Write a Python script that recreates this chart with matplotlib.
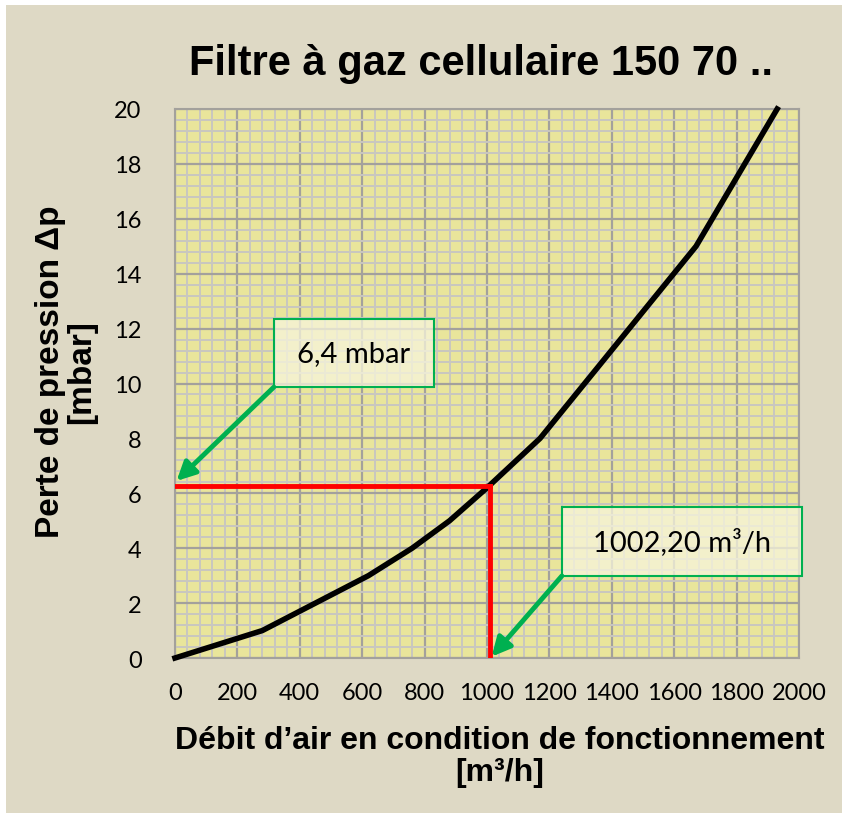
import matplotlib.pyplot as plt
from matplotlib.patches import Rectangle
from matplotlib.ticker import MultipleLocator

# curve data
debit = [0, 280, 620, 760, 880, 1000, 1170, 1420, 1670, 1930]
perte = [0, 1, 3, 4, 5, 6.2, 8, 11.5, 15, 20]

# operating point (red lines)
point_x = 1010
point_y = 6.25
label_p = "6,4 mbar"
label_q = "1002,20 m³/h"

x_ticks = list(range(0, 2001, 200))
y_ticks = list(range(0, 21, 2))

BG = "#DED9C5"
PLOT_BG = "#E9E59B"
GREEN = "#00B050"

fig = plt.figure(figsize=(8.48, 8.20), dpi=100, facecolor="white")
fig.patches.append(Rectangle((0.007, 0.007), 0.986, 0.986, transform=fig.transFigure,
                             facecolor=BG, edgecolor="none", zorder=-10))
ax = fig.add_axes([175/848, 1 - 659/820, 624/848, 549/820])
ax.set_facecolor(PLOT_BG)

ax.set_xlim(0, 2000)
ax.set_ylim(0, 20)
ax.set_xticks(x_ticks)
ax.set_yticks(y_ticks)
ax.xaxis.set_minor_locator(MultipleLocator(40))
ax.yaxis.set_minor_locator(MultipleLocator(0.4))
ax.grid(which="minor", color="#C9C7C0", lw=1.4, zorder=0)
ax.grid(which="major", color="#A3A19C", lw=1.6, zorder=0)
ax.set_axisbelow(True)
ax.tick_params(which="both", length=0)
ax.tick_params(axis="x", pad=17)
ax.tick_params(axis="y", pad=24)
for lab in ax.get_xticklabels() + ax.get_yticklabels():
    lab.set_fontfamily("Lato")
    lab.set_fontsize(17)
for s in ax.spines.values():
    s.set_color("#A3A19C")
    s.set_linewidth(1.5)

ax.plot(debit, perte, color="black", lw=4, zorder=3, clip_on=False)

# red reading lines
ax.plot([0, point_x], [point_y, point_y], color="#FF0000", lw=3.5, zorder=4)
ax.plot([point_x, point_x], [point_y, 0], color="#FF0000", lw=3.5, zorder=4)

# annotation boxes
box1 = (317, 9.87, 513, 2.48)
box2 = (1240, 2.99, 770, 2.51)
for (bx, by, bw, bh), txt in [(box1, label_p), (box2, label_q)]:
    ax.add_patch(Rectangle((bx, by), bw, bh, facecolor="#F7F5DC", alpha=0.75,
                           edgecolor="none", zorder=5, clip_on=False))
    ax.add_patch(Rectangle((bx, by), bw, bh, facecolor="none", edgecolor=GREEN,
                           lw=1.5, zorder=6, clip_on=False))
    ax.text(bx + bw/2, by + bh/2, txt, ha="center", va="center", fontsize=21,
            family="Lato", zorder=7)

ax.annotate("", xy=(5, 6.45), xytext=(box1[0], box1[1]),
            arrowprops=dict(arrowstyle="-|>", color=GREEN, lw=3.5, mutation_scale=28,
                            shrinkA=0, shrinkB=0), zorder=8, annotation_clip=False)
ax.annotate("", xy=(1015, 0.05), xytext=(box2[0], box2[1]),
            arrowprops=dict(arrowstyle="-|>", color=GREEN, lw=3.5, mutation_scale=28,
                            shrinkA=0, shrinkB=0), zorder=8, annotation_clip=False)

fig.text(481/848, 1 - 64/820, "Filtre à gaz cellulaire 150 70 ..", ha="center", va="center",
         fontsize=30, fontweight="bold", family="Liberation Sans")
fig.text(500/848, 1 - 757/820, "Débit d’air en condition de fonctionnement\n[m³/h]",
         ha="center", va="center", fontsize=23, fontweight="bold", family="Liberation Sans",
         linespacing=1.05)
fig.text(66/848, 1 - 372/820, "Perte de pression Δp\n[mbar]", ha="center", va="center",
         rotation=90, fontsize=24, fontweight="bold", family="Liberation Sans",
         linespacing=1.0)

fig.savefig("out.png", dpi=100, facecolor=fig.get_facecolor())
